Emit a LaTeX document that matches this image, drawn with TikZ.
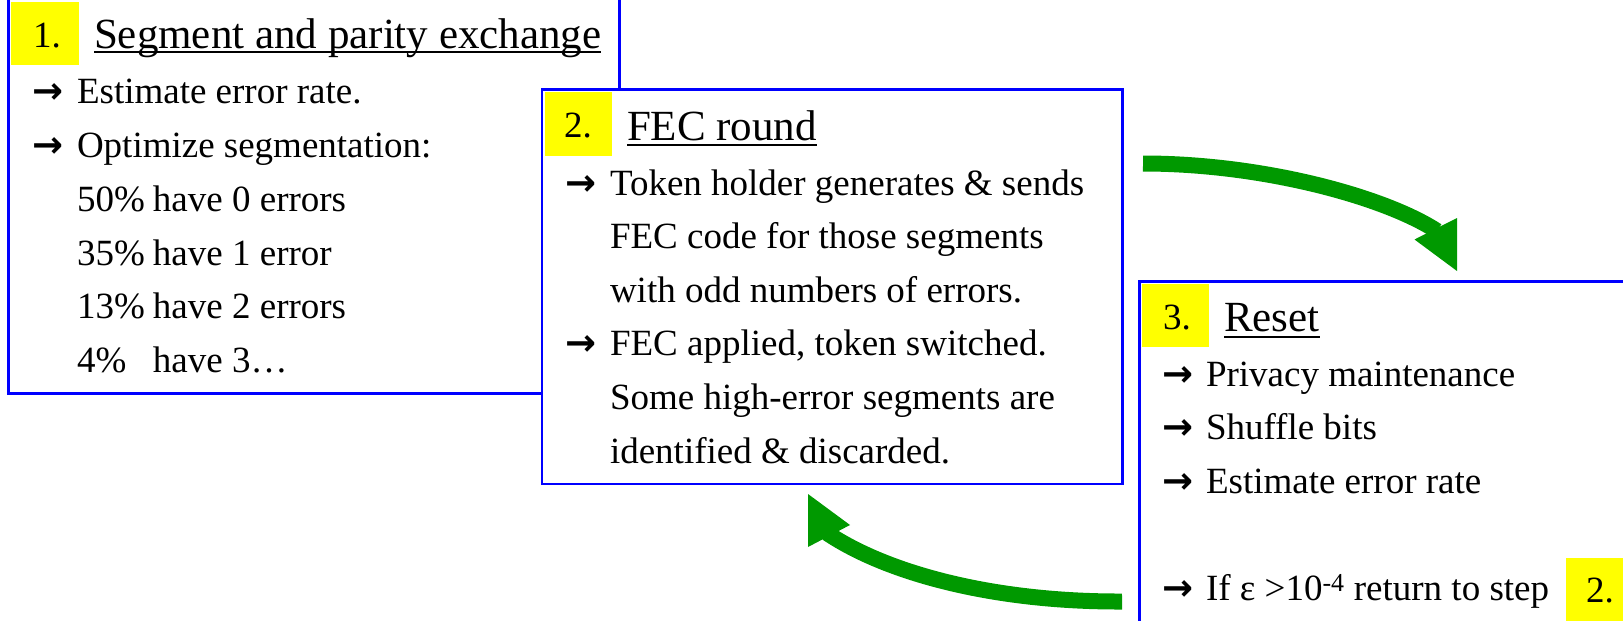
\documentclass[tikz,border=0pt]{standalone}
\usepackage{fontspec}
\setmainfont{Liberation Serif}
\newfontfamily\arrowfont{DejaVu Sans}
\usetikzlibrary{arrows.meta}
\definecolor{boxblue}{RGB}{0,0,255}
\definecolor{arrgreen}{RGB}{0,153,0}
\definecolor{hlyellow}{RGB}{255,255,0}
\newcommand{\myarr}[1]{\makebox[#1][l]{\arrowfont\bfseries →}}
\begin{document}
\begin{tikzpicture}[x=1pt,y=-1pt,
  panel/.style={draw=boxblue, line width=2.7pt, fill=white, rectangle, anchor=north west, inner sep=0pt, outer sep=0pt},
  hlbox/.style={fill=hlyellow, rectangle, anchor=north west, inner sep=0pt, outer sep=0pt},
  txt/.style={anchor=base west, inner sep=0pt, outer sep=0pt, font=\fontsize{37}{44}\selectfont},
  ttl/.style={anchor=base west, inner sep=0pt, outer sep=0pt, font=\fontsize{43}{50}\selectfont},
  uline/.style={line width=2.7pt},
  flow/.style={draw=arrgreen, line width=16pt},
  ahead/.style={fill=arrgreen}]
\useasboundingbox (0,0) rectangle (1623,621);
\clip (0,0) rectangle (1623,621);

% Box 1
\node[panel, minimum width=611.1pt, minimum height=423.5pt] (box1) at (8.7,-30) {};
\node[hlbox, minimum width=68pt, minimum height=63pt] (hl1) at (11,2) {};
\node[txt] (n1) at (33,47) {1.};
\node[ttl] (t1) at (94,48) {Segment and parity exchange};
\draw[uline] ([yshift=-4pt]t1.base west) -- ([yshift=-4pt]t1.base east);
\node[txt] (l11) at (32,103) {\myarr{45pt}Estimate error rate.};
\node[txt] (l12) at (32,157) {\myarr{45pt}Optimize segmentation:};
\node[txt] (l13) at (77,211) {\makebox[76pt][l]{50\%}have 0 errors};
\node[txt] (l14) at (77,265) {\makebox[76pt][l]{35\%}have 1 error};
\node[txt] (l15) at (77,318) {\makebox[76pt][l]{13\%}have 2 errors};
\node[txt] (l16) at (77,372) {\makebox[76pt][l]{4\%}have 3…};

% Box 2
\node[panel, minimum width=580.6pt, minimum height=394.5pt] (box2) at (542,89.5) {};
\node[hlbox, minimum width=67pt, minimum height=64pt] (hl2) at (545,92) {};
\node[txt] (n2) at (564,137) {2.};
\node[ttl] (t2) at (627,140) {FEC round};
\draw[uline] ([yshift=-5pt]t2.base west) -- ([yshift=-5pt]t2.base east);
\node[txt] (l21) at (565,195) {\myarr{45pt}Token holder generates \& sends};
\node[txt] (l22) at (610,248.6) {FEC code for those segments};
\node[txt] (l23) at (610,302.2) {with odd numbers of errors.};
\node[txt] (l24) at (565,355.8) {\myarr{45pt}FEC applied, token switched.};
\node[txt] (l25) at (610,409.4) {Some high-error segments are};
\node[txt] (l26) at (610,463) {identified \& discarded.};

% Box 3
\node[panel, minimum width=520pt, minimum height=380pt] (box3) at (1139.5,281.3) {};
\node[hlbox, minimum width=67pt, minimum height=63pt] (hl3) at (1142,284) {};
\node[txt] (n3) at (1163,329) {3.};
\node[ttl] (t3) at (1224,331) {Reset};
\draw[uline] ([yshift=-6pt]t3.base west) -- ([yshift=-6pt]t3.base east);
\node[txt] (l31) at (1162,386) {\myarr{44pt}Privacy maintenance};
\node[txt] (l32) at (1162,439.6) {\myarr{44pt}Shuffle bits};
\node[txt] (l33) at (1162,493.2) {\myarr{44pt}Estimate error rate};
\node[txt] (l34) at (1162,600.5) {\myarr{44pt}If ε >10\textsuperscript{-4} return to step};
\node[hlbox, minimum width=70pt, minimum height=70pt] (hl4) at (1566,558) {};
\node[txt] (n4) at (1586,602) {2.};

% Arrow A (box 2 -> box 3)
\coordinate (aS) at (1143,163.5);
\coordinate (aE) at (1437,231);
\coordinate (aT) at (1457,271);
\draw[flow] (aS) .. controls (1263,163.5) and (1385,197) .. (aE);
\fill[ahead] (1457,218) -- (1414.5,239.5) -- (aT) -- cycle;

% Arrow B (box 3 -> box 2)
\coordinate (bS) at (1122,601.5);
\coordinate (bE) at (827,533);
\coordinate (bT) at (808,494);
\draw[flow] (bS) .. controls (990,602) and (885,572) .. (bE);
\fill[ahead] (808,547) -- (850,525) -- (bT) -- cycle;
\end{tikzpicture}
\end{document}
